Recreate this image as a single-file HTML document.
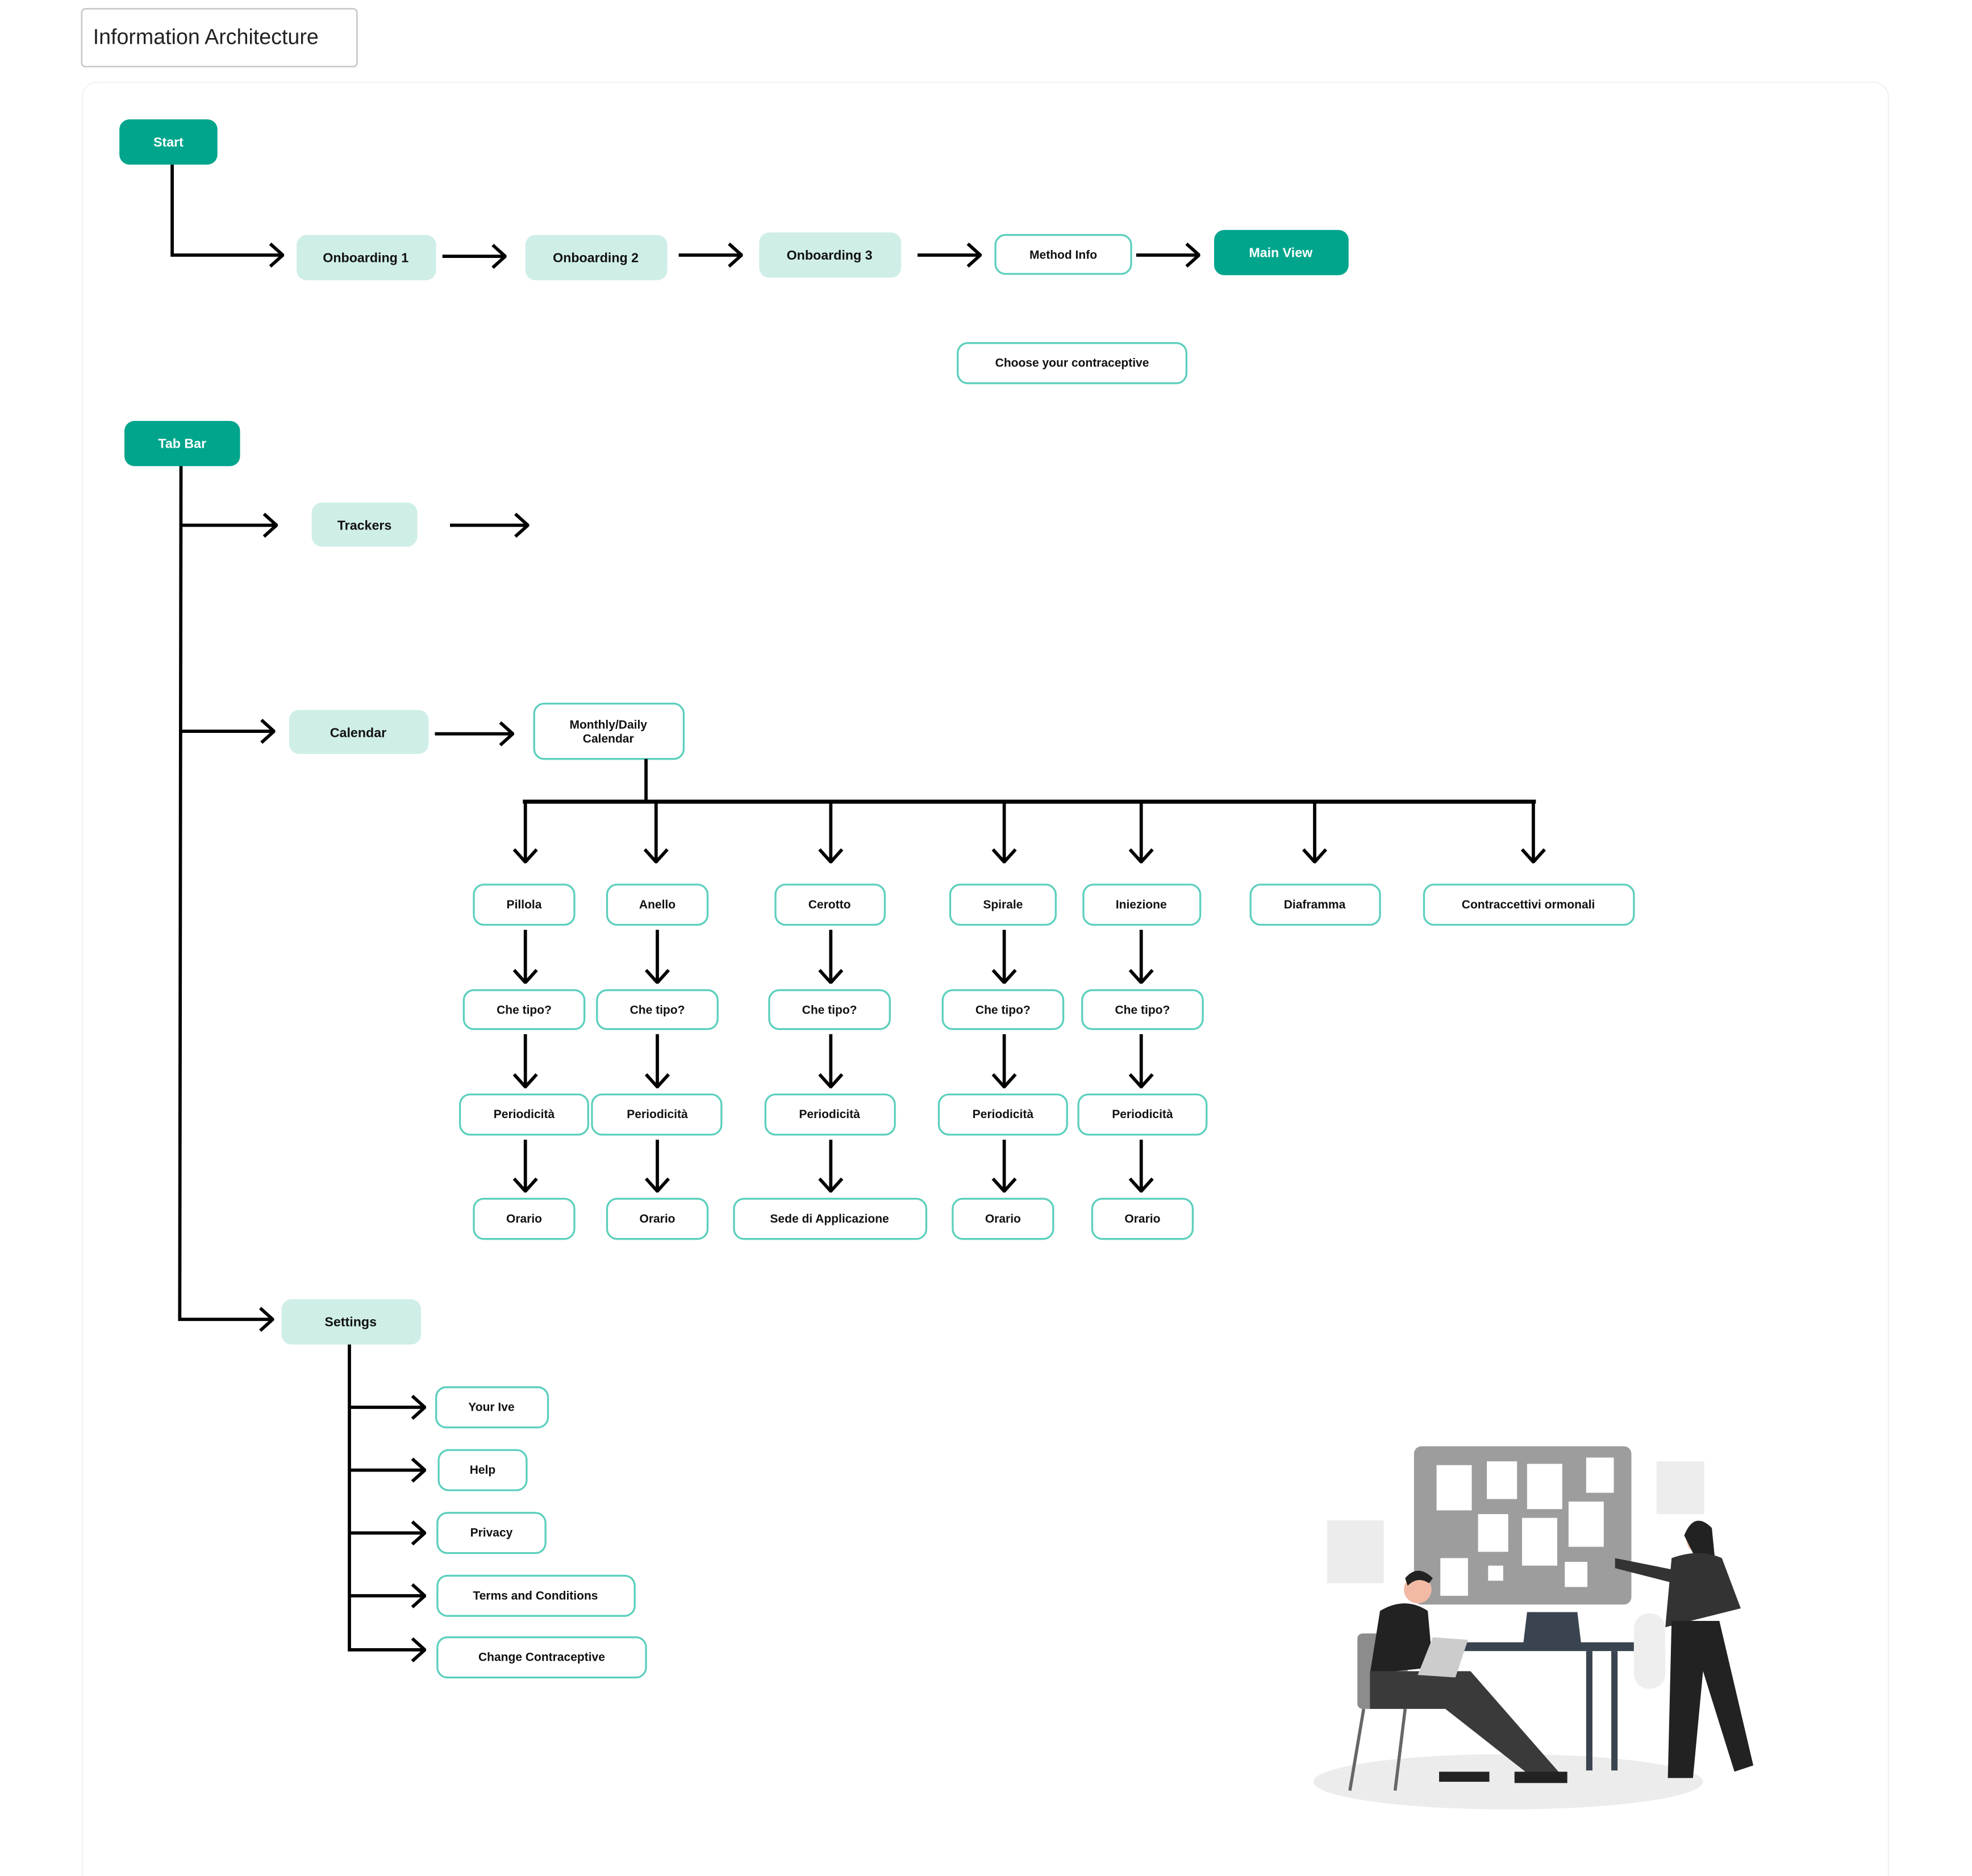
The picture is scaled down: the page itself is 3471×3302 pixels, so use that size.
<!DOCTYPE html>
<html><head><meta charset="utf-8"><style>
html,body{margin:0;padding:0;background:#fff;}
svg{display:block;}
text{font-family:"Liberation Sans",sans-serif;}
.t{font-size:10.5px;font-weight:bold;fill:#111;text-anchor:middle;dominant-baseline:central;}
.w{fill:#fff;}
.dk{fill:#00a58c;}
.lt{fill:#cfeee8;}
.ol{fill:#fff;stroke:#5ccfbd;stroke-width:1.5;}
.ln{stroke:#000;stroke-width:2.6;fill:none;}
</style></head><body>
<svg width="3471" height="3302" viewBox="0 0 1569 1493" preserveAspectRatio="none" xmlns="http://www.w3.org/2000/svg">
<defs>
<marker id="ar" viewBox="0 0 12 20" refX="11" refY="10" markerWidth="12" markerHeight="20" markerUnits="userSpaceOnUse" orient="auto">
<polyline points="1,1 11,10 1,19" fill="none" stroke="#000" stroke-width="2.6"/>
</marker>
</defs>
<rect x="65" y="7" width="219" height="46" rx="3" fill="#fff" stroke="#c8c8c8" stroke-width="1.2"/>
<text x="74" y="35" style="font-size:17px;fill:#222">Information Architecture</text>
<rect x="65.5" y="65.5" width="1437" height="1440" rx="12" fill="none" stroke="#f2f2f2" stroke-width="1"/>

<rect x="95" y="95" width="78" height="36" rx="8" class="dk"/><text x="134" y="113" class="t w">Start</text>
<polyline points="137,131 137,203 225,203" class="ln" marker-end="url(#ar)"/>
<rect x="236" y="187" width="111" height="36" rx="8" class="lt"/><text x="291" y="205" class="t">Onboarding 1</text>
<line x1="352" y1="204" x2="402" y2="204" class="ln" marker-end="url(#ar)"/>
<rect x="418" y="187" width="113" height="36" rx="8" class="lt"/><text x="474" y="205" class="t">Onboarding 2</text>
<line x1="540" y1="203" x2="590" y2="203" class="ln" marker-end="url(#ar)"/>
<rect x="604" y="185" width="113" height="36" rx="8" class="lt"/><text x="660" y="203" class="t">Onboarding 3</text>
<line x1="730" y1="203" x2="780" y2="203" class="ln" marker-end="url(#ar)"/>
<rect x="792" y="187" width="108" height="31" rx="8" class="ol"/><text x="846" y="203" class="t" style="font-size:9.5px">Method Info</text>
<line x1="904" y1="203" x2="954" y2="203" class="ln" marker-end="url(#ar)"/>
<rect x="966" y="183" width="107" height="36" rx="8" class="dk"/><text x="1019" y="201" class="t w">Main View</text>
<rect x="762" y="273" width="182" height="32" rx="8" class="ol"/><text x="853" y="289" class="t" style="font-size:9.5px">Choose your contraceptive</text>

<rect x="99" y="335" width="92" height="36" rx="8" class="dk"/><text x="145" y="353" class="t w">Tab Bar</text>
<polyline points="144,371 143,1050 217,1050" class="ln" marker-end="url(#ar)"/>
<line x1="143" y1="418" x2="220" y2="418" class="ln" marker-end="url(#ar)"/>
<rect x="248" y="400" width="84" height="35" rx="8" class="lt"/><text x="290" y="418" class="t">Trackers</text>
<line x1="358" y1="418" x2="420" y2="418" class="ln" marker-end="url(#ar)"/>

<line x1="143" y1="582" x2="218" y2="582" class="ln" marker-end="url(#ar)"/>
<rect x="230" y="565" width="111" height="35" rx="8" class="lt"/><text x="285" y="583" class="t">Calendar</text>
<line x1="346" y1="584" x2="408" y2="584" class="ln" marker-end="url(#ar)"/>
<rect x="425" y="560" width="119" height="44" rx="8" class="ol"/>
<text x="484" y="577" class="t" style="font-size:9.5px">Monthly/Daily</text>
<text x="484" y="588" class="t" style="font-size:9.5px">Calendar</text>
<line x1="514" y1="604" x2="514" y2="638" class="ln"/>
<line x1="416" y1="638" x2="1222" y2="638" stroke="#000" stroke-width="3.2"/>
<g class="ln">
<line x1="418" y1="638" x2="418" y2="686" marker-end="url(#ar)"/>
<line x1="522" y1="638" x2="522" y2="686" marker-end="url(#ar)"/>
<line x1="661" y1="638" x2="661" y2="686" marker-end="url(#ar)"/>
<line x1="799" y1="638" x2="799" y2="686" marker-end="url(#ar)"/>
<line x1="908" y1="638" x2="908" y2="686" marker-end="url(#ar)"/>
<line x1="1046" y1="638" x2="1046" y2="686" marker-end="url(#ar)"/>
<line x1="1220" y1="638" x2="1220" y2="686" marker-end="url(#ar)"/>
</g>
<g>
<rect x="377" y="704" width="80" height="32" rx="8" class="ol"/><text x="417" y="720" class="t" style="font-size:9.5px">Pillola</text>
<rect x="483" y="704" width="80" height="32" rx="8" class="ol"/><text x="523" y="720" class="t" style="font-size:9.5px">Anello</text>
<rect x="617" y="704" width="87" height="32" rx="8" class="ol"/><text x="660" y="720" class="t" style="font-size:9.5px">Cerotto</text>
<rect x="756" y="704" width="84" height="32" rx="8" class="ol"/><text x="798" y="720" class="t" style="font-size:9.5px">Spirale</text>
<rect x="862" y="704" width="93" height="32" rx="8" class="ol"/><text x="908" y="720" class="t" style="font-size:9.5px">Iniezione</text>
<rect x="995" y="704" width="103" height="32" rx="8" class="ol"/><text x="1046" y="720" class="t" style="font-size:9.5px">Diaframma</text>
<rect x="1133" y="704" width="167" height="32" rx="8" class="ol"/><text x="1216" y="720" class="t" style="font-size:9.5px">Contraccettivi ormonali</text>

<rect x="369" y="788" width="96" height="31" rx="8" class="ol"/><text x="417" y="804" class="t" style="font-size:9.5px">Che tipo?</text>
<rect x="475" y="788" width="96" height="31" rx="8" class="ol"/><text x="523" y="804" class="t" style="font-size:9.5px">Che tipo?</text>
<rect x="612" y="788" width="96" height="31" rx="8" class="ol"/><text x="660" y="804" class="t" style="font-size:9.5px">Che tipo?</text>
<rect x="750" y="788" width="96" height="31" rx="8" class="ol"/><text x="798" y="804" class="t" style="font-size:9.5px">Che tipo?</text>
<rect x="861" y="788" width="96" height="31" rx="8" class="ol"/><text x="909" y="804" class="t" style="font-size:9.5px">Che tipo?</text>

<rect x="366" y="871" width="102" height="32" rx="8" class="ol"/><text x="417" y="887" class="t" style="font-size:9.5px">Periodicità</text>
<rect x="471" y="871" width="103" height="32" rx="8" class="ol"/><text x="523" y="887" class="t" style="font-size:9.5px">Periodicità</text>
<rect x="609" y="871" width="103" height="32" rx="8" class="ol"/><text x="660" y="887" class="t" style="font-size:9.5px">Periodicità</text>
<rect x="747" y="871" width="102" height="32" rx="8" class="ol"/><text x="798" y="887" class="t" style="font-size:9.5px">Periodicità</text>
<rect x="858" y="871" width="102" height="32" rx="8" class="ol"/><text x="909" y="887" class="t" style="font-size:9.5px">Periodicità</text>

<rect x="377" y="954" width="80" height="32" rx="8" class="ol"/><text x="417" y="970" class="t" style="font-size:9.5px">Orario</text>
<rect x="483" y="954" width="80" height="32" rx="8" class="ol"/><text x="523" y="970" class="t" style="font-size:9.5px">Orario</text>
<rect x="584" y="954" width="153" height="32" rx="8" class="ol"/><text x="660" y="970" class="t" style="font-size:9.5px">Sede di Applicazione</text>
<rect x="758" y="954" width="80" height="32" rx="8" class="ol"/><text x="798" y="970" class="t" style="font-size:9.5px">Orario</text>
<rect x="869" y="954" width="80" height="32" rx="8" class="ol"/><text x="909" y="970" class="t" style="font-size:9.5px">Orario</text>
</g>
<g class="ln">
<line x1="418" y1="740" x2="418" y2="782" marker-end="url(#ar)"/>
<line x1="523" y1="740" x2="523" y2="782" marker-end="url(#ar)"/>
<line x1="661" y1="740" x2="661" y2="782" marker-end="url(#ar)"/>
<line x1="799" y1="740" x2="799" y2="782" marker-end="url(#ar)"/>
<line x1="908" y1="740" x2="908" y2="782" marker-end="url(#ar)"/>
<line x1="418" y1="823" x2="418" y2="865" marker-end="url(#ar)"/>
<line x1="523" y1="823" x2="523" y2="865" marker-end="url(#ar)"/>
<line x1="661" y1="823" x2="661" y2="865" marker-end="url(#ar)"/>
<line x1="799" y1="823" x2="799" y2="865" marker-end="url(#ar)"/>
<line x1="908" y1="823" x2="908" y2="865" marker-end="url(#ar)"/>
<line x1="418" y1="907" x2="418" y2="948" marker-end="url(#ar)"/>
<line x1="523" y1="907" x2="523" y2="948" marker-end="url(#ar)"/>
<line x1="661" y1="907" x2="661" y2="948" marker-end="url(#ar)"/>
<line x1="799" y1="907" x2="799" y2="948" marker-end="url(#ar)"/>
<line x1="908" y1="907" x2="908" y2="948" marker-end="url(#ar)"/>
</g>

<rect x="224" y="1034" width="111" height="36" rx="8" class="lt"/><text x="279" y="1052" class="t">Settings</text>
<polyline points="278,1070 278,1313 338,1313" class="ln" marker-end="url(#ar)"/>
<g class="ln">
<line x1="278" y1="1120" x2="338" y2="1120" marker-end="url(#ar)"/>
<line x1="278" y1="1170" x2="338" y2="1170" marker-end="url(#ar)"/>
<line x1="278" y1="1220" x2="338" y2="1220" marker-end="url(#ar)"/>
<line x1="278" y1="1270" x2="338" y2="1270" marker-end="url(#ar)"/>
</g>
<rect x="347" y="1104" width="89" height="32" rx="8" class="ol"/><text x="391" y="1120" class="t" style="font-size:9.5px">Your Ive</text>
<rect x="349" y="1154" width="70" height="32" rx="8" class="ol"/><text x="384" y="1170" class="t" style="font-size:9.5px">Help</text>
<rect x="348" y="1204" width="86" height="32" rx="8" class="ol"/><text x="391" y="1220" class="t" style="font-size:9.5px">Privacy</text>
<rect x="348" y="1254" width="157" height="32" rx="8" class="ol"/><text x="426" y="1270" class="t" style="font-size:9.5px">Terms and Conditions</text>
<rect x="348" y="1303" width="166" height="32" rx="8" class="ol"/><text x="431" y="1319" class="t" style="font-size:9.5px">Change Contraceptive</text>

<g>
<ellipse cx="1200" cy="1418" rx="155" ry="22" fill="#ececec"/>
<rect x="1056" y="1210" width="45" height="50" fill="#ececec"/>
<rect x="1318" y="1163" width="38" height="42" fill="#ededed"/>
<rect x="1125" y="1151" width="173" height="126" rx="6" fill="#9d9d9d"/>
<g fill="#fff">
<rect x="1143" y="1166" width="28" height="36"/><rect x="1183" y="1163" width="24" height="30"/>
<rect x="1215" y="1165" width="28" height="36"/><rect x="1262" y="1160" width="22" height="28"/>
<rect x="1176" y="1205" width="24" height="30"/><rect x="1211" y="1208" width="28" height="38"/>
<rect x="1248" y="1195" width="28" height="36"/><rect x="1146" y="1240" width="22" height="30"/>
<rect x="1184" y="1246" width="12" height="12"/><rect x="1245" y="1243" width="18" height="20"/>
</g>
<rect x="1140" y="1307" width="160" height="7" fill="#3a4450"/>
<rect x="1262" y="1314" width="5" height="95" fill="#3a4450"/>
<rect x="1282" y="1314" width="5" height="95" fill="#3a4450"/>
<polygon points="1215,1283 1255,1283 1258,1308 1212,1308" fill="#3a4450"/>
<rect x="1080" y="1300" width="40" height="60" rx="4" fill="#8c8c8c"/>
<line x1="1085" y1="1360" x2="1074" y2="1425" stroke="#666" stroke-width="2.5"/>
<line x1="1118" y1="1360" x2="1110" y2="1425" stroke="#666" stroke-width="2.5"/>
<circle cx="1128" cy="1265" r="11" fill="#f2b9a4"/>
<path d="M1118 1256 q10 -12 22 0 l-3 4 q-9 -6 -17 2z" fill="#222"/>
<path d="M1098 1282 q20 -12 38 0 l4 45 l-50 5z" fill="#222"/>
<path d="M1090 1330 l80 0 l70 80 l-20 5 l-70 -55 l-60 0z" fill="#3a3a3a"/>
<rect x="1145" y="1410" width="40" height="8" fill="#222"/>
<rect x="1205" y="1410" width="42" height="9" fill="#222"/>
<polygon points="1128,1333 1140,1303 1168,1305 1158,1335" fill="#ccc"/>
<circle cx="1352" cy="1226" r="10" fill="#f2b9a4"/>
<path d="M1340 1222 q8 -20 22 -6 l4 40 l-10 -2z" fill="#222"/>
<path d="M1330 1240 q22 -8 40 0 l15 40 l-60 15z" fill="#333"/>
<path d="M1285 1240 l50 10 l-3 10 l-47 -12z" fill="#333"/>
<path d="M1330 1290 l38 0 l27 115 l-15 5 l-25 -80 l-8 85 l-20 0z" fill="#222"/>
<rect x="1300" y="1284" width="25" height="60" rx="12" fill="#eeeeee"/>
</g>
</svg>
</body></html>
